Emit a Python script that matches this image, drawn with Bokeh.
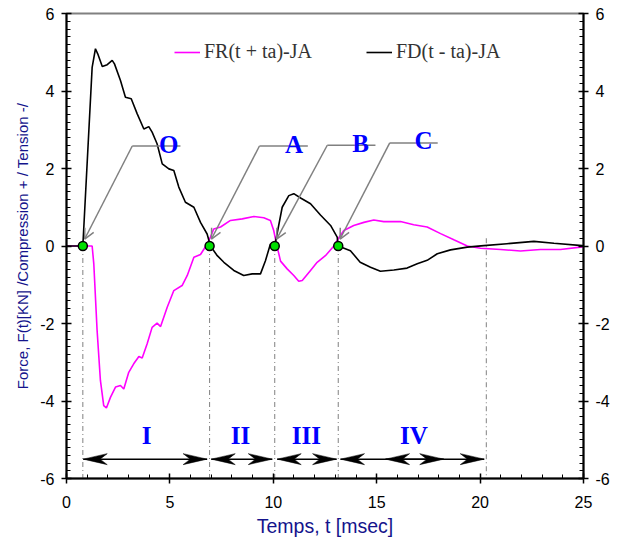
import numpy as np
from bokeh.plotting import figure
from bokeh.models import (Range1d, LinearAxis, Legend, LegendItem, Arrow, OpenHead,
                          SingleIntervalTicker, PrintfTickFormatter)
from bokeh.core.properties import value
from bokeh.embed import file_html
from bokeh.resources import INLINE

# ---------------- data ----------------
t_fd = [0, 0.79, 1.24, 1.40, 1.51, 1.73, 1.97, 2.21, 2.32, 2.61, 2.85, 3.13, 3.42, 3.74,
        3.98, 4.14, 4.38, 4.63, 4.95, 5.19, 5.43, 5.75, 6.16, 6.48, 6.80, 6.96, 7.29,
        7.61, 8.09, 8.57, 8.98, 9.38, 9.62, 9.86, 10.07, 10.43, 10.75, 10.99, 11.32,
        11.80, 12.28, 12.77, 13.09, 13.14, 13.73, 14.20, 14.70, 15.18, 15.83, 16.47,
        16.96, 17.44, 17.93, 18.57, 19.38, 20.18, 21.30, 22.60, 23.57, 24.94, 25.0]
f_fd = [0, 0, 4.61, 5.09, 4.96, 4.63, 4.68, 4.79, 4.70, 4.27, 3.84, 3.80, 3.41, 3.02,
        3.08, 2.94, 2.64, 2.12, 1.99, 1.95, 1.52, 1.13, 1.00, 0.61, 0.31, 0.0, -0.25,
        -0.42, -0.63, -0.76, -0.72, -0.72, -0.38, 0.05, 0.0, 1.00, 1.30, 1.35, 1.24,
        1.09, 0.80, 0.53, 0.23, 0.0, -0.12, -0.42, -0.55, -0.65, -0.62, -0.57,
        -0.46, -0.37, -0.20, -0.10, -0.03, 0.01, 0.06, 0.12, 0.07, 0.01, 0.0]

t_fr = [0, 1.24, 1.32, 1.48, 1.64, 1.80, 1.93, 2.13, 2.37, 2.61, 2.77, 3.01, 3.25, 3.50,
        3.66, 3.90, 4.14, 4.38, 4.55, 4.87, 5.19, 5.59, 5.84, 6.16, 6.48, 6.72, 6.96,
        7.12, 7.45, 7.93, 8.50, 9.06, 9.54, 9.86, 10.02, 10.15, 10.35, 10.67, 10.99,
        11.23, 11.40, 11.80, 12.12, 12.52, 12.93, 13.09, 13.41, 13.89, 14.38, 14.86,
        15.34, 16.15, 16.79, 17.44, 18.09, 18.73, 19.38, 20.02, 20.99, 21.95, 22.92,
        23.89, 24.85, 25.0]
f_fr = [0, 0, -0.46, -2.18, -3.47, -4.12, -4.18, -3.90, -3.64, -3.60, -3.69, -3.26,
        -3.04, -2.85, -2.89, -2.52, -2.10, -1.99, -2.08, -1.58, -1.15, -1.02, -0.76,
        -0.29, -0.22, -0.02, 0.23, 0.44, 0.49, 0.66, 0.70, 0.76, 0.73, 0.66, 0.40, 0.06,
        -0.39, -0.59, -0.76, -0.91, -0.89, -0.63, -0.42, -0.25, 0.0, 0.15, 0.40, 0.53,
        0.61, 0.67, 0.63, 0.63, 0.55, 0.49, 0.32, 0.16, 0.0, -0.06, -0.09, -0.13, -0.09,
        -0.09, -0.03, -0.02]

series_names = ["FR(t + ta)-JA", "FD(t - ta)-JA"]

point_names = ["O", "A", "B", "C"]
point_t = [0.79, 6.92, 10.07, 13.14]
point_f = [0, 0, 0, 0]
label_t = [4.94, 11.00, 14.22, 17.27]
leader_x0 = [3.18, 9.33, 12.61, 15.63]
leader_x1 = [5.51, 11.67, 14.94, 17.95]
leader_y = [2.58, 2.58, 2.60, 2.66]

phase_bounds = [0.79, 6.92, 10.07, 13.14, 20.30]
phase_names = ["I", "II", "III", "IV"]
phase_label_t = [3.87, 8.41, 11.60, 16.80]
phase_label_y = -4.89
arrow_start = [0.81, 7.00, 10.19, 13.25, 15.43]
arrow_end = [6.80, 9.95, 13.06, 18.24, 20.20]
arrow_y = -5.5

x_title = "Temps, t [msec]"
y_title = "Force, F(t)[KN] /Compression + / Tension -/"

# ---------------- figure ----------------
W, H = 615, 541
ML, MT = 66, 13
FW, FH = 517, 465
MR, MB = W - ML - FW, H - MT - FH
XMIN, XMAX, YMIN, YMAX = 0, 25, -6, 6
pxx = FW / (XMAX - XMIN)
pxy = FH / (YMAX - YMIN)

p = figure(width=W, height=H, output_backend="svg", toolbar_location=None,
           x_range=Range1d(XMIN, XMAX), y_range=Range1d(YMIN, YMAX),
           min_border_left=ML, min_border_right=MR, min_border_top=MT,
           min_border_bottom=MB)
p.grid.visible = False
p.outline_line_color = "#808080"
p.outline_line_width = 2
p.background_fill_color = "white"
p.border_fill_color = "white"

font = "Liberation Sans"
serif = "Liberation Serif"
navy = "#14148c"


def style_axis(ax):
    ax.formatter = PrintfTickFormatter(format="%d")
    ax.axis_line_color = "black"
    ax.axis_line_width = 2
    ax.major_tick_line_color = "black"
    ax.minor_tick_line_color = "black"
    ax.major_tick_line_width = 1.5
    ax.minor_tick_line_width = 1
    ax.major_tick_in = 5
    ax.major_tick_out = 5
    ax.minor_tick_in = 4
    ax.minor_tick_out = 0
    ax.major_label_text_font = font
    ax.major_label_text_font_size = "16px"
    ax.major_label_text_color = "black"
    ax.major_label_standoff = 7
    ax.axis_label_text_font = font
    ax.axis_label_text_font_style = "normal"
    ax.axis_label_text_color = navy


p.xaxis.ticker = SingleIntervalTicker(interval=5, num_minor_ticks=5)
p.yaxis.ticker = SingleIntervalTicker(interval=2, num_minor_ticks=10)
style_axis(p.xaxis[0])
style_axis(p.yaxis[0])
p.xaxis.axis_label = x_title
p.xaxis.axis_label_text_font_size = "19.5px"
p.xaxis.axis_label_standoff = 4
p.xaxis.major_label_standoff = 12
p.yaxis.axis_label = y_title
p.yaxis.axis_label_text_font_size = "15px"
p.yaxis.axis_label_standoff = 6

ry = LinearAxis(ticker=SingleIntervalTicker(interval=2, num_minor_ticks=10))
style_axis(ry)
p.add_layout(ry, "right")

# vertical dash-dot separators
p.segment(x0=phase_bounds, y0=[0, 0, 0, 0, 0.2], x1=phase_bounds,
          y1=[YMIN] * len(phase_bounds), line_color="#808080", line_width=1,
          line_dash="5 3 1 3")

# curves
fr = p.line(t_fr, f_fr, line_color="#ff00ff", line_width=1.6)
fd = p.line(t_fd, f_fd, line_color="black", line_width=1.6)

# leader lines with arrows
tip_dx, tip_dy = 0.09, 0.18
p.segment(x0=leader_x0, y0=leader_y, x1=leader_x1, y1=leader_y,
          line_color="#808080", line_width=1.5)
for x0, y0, pt in zip(leader_x0, leader_y, point_t):
    p.add_layout(Arrow(x_start=x0, y_start=y0, x_end=pt + tip_dx, y_end=tip_dy,
                       line_color="#808080", line_width=1.5,
                       end=OpenHead(size=10, line_color="#808080", line_width=1.5)))

# points
p.scatter(point_t, point_f, size=9, fill_color="#00e000", line_color="black",
          line_width=1.5)

# point labels
p.text(x=label_t, y=leader_y, text=point_names, text_font=value(serif),
       text_font_style="bold", text_font_size="25px", text_color="#0000ff",
       text_align="center", text_baseline="alphabetic", y_offset=-2)

# phase double arrows
L = 24 / pxx
w = 5.5 / pxy
notch = 0.7 * L
hx, hy = [], []
for xs, xe in zip(arrow_start, arrow_end):
    hx.append([xs, xs + L, xs + notch, xs + L])
    hy.append([arrow_y, arrow_y + w, arrow_y, arrow_y - w])
    hx.append([xe, xe - L, xe - notch, xe - L])
    hy.append([arrow_y, arrow_y + w, arrow_y, arrow_y - w])
p.segment(x0=arrow_start, y0=[arrow_y] * len(arrow_start), x1=arrow_end,
          y1=[arrow_y] * len(arrow_end), line_color="black", line_width=1.5)
p.patches(hx, hy, fill_color="black", line_color="black", line_width=0.5)

# phase labels
p.text(x=phase_label_t, y=[phase_label_y] * 4, text=phase_names,
       text_font=value(serif), text_font_style="bold", text_font_size="25px",
       text_color="#0000ff", text_align="center", text_baseline="alphabetic")

# legend
legend = Legend(items=[LegendItem(label=series_names[0], renderers=[fr]),
                       LegendItem(label=series_names[1], renderers=[fd])],
                orientation="horizontal", location=(108, FH - 50),
                padding=0, margin=0, spacing=54, label_standoff=4,
                glyph_width=26, glyph_height=20, label_height=20,
                label_text_font=serif, label_text_font_size="20px",
                label_text_color="#333333", border_line_alpha=0,
                background_fill_alpha=0)
p.add_layout(legend)

open("out.html", "w").write(file_html(p, INLINE))
